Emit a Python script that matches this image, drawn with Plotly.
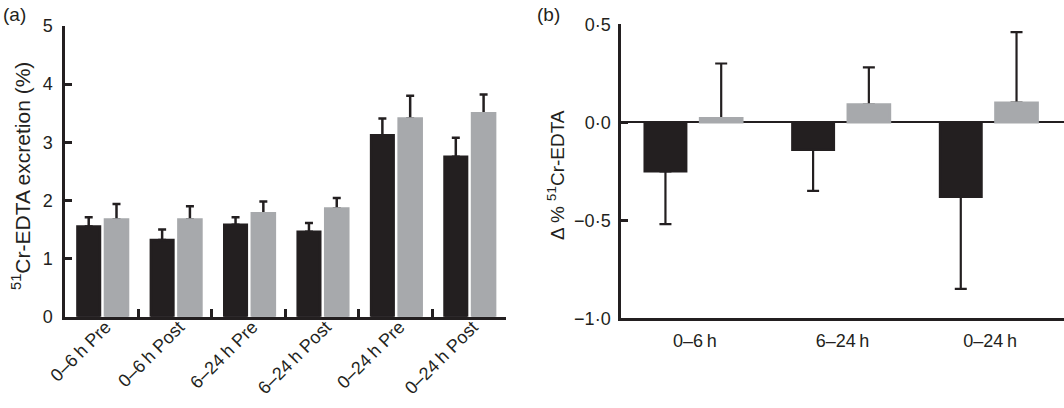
import plotly.graph_objects as go

# panel (a): excretion per collection period
cats_a = ["0–6\u2009h Pre", "0–6\u2009h Post", "6–24\u2009h Pre",
          "6–24\u2009h Post", "0–24\u2009h Pre", "0–24\u2009h Post"]
black_a = [1.55, 1.32, 1.58, 1.46, 3.12, 2.75]
black_a_err = [0.16, 0.18, 0.13, 0.15, 0.29, 0.33]
grey_a = [1.67, 1.67, 1.78, 1.86, 3.41, 3.50]
grey_a_err = [0.27, 0.23, 0.20, 0.18, 0.39, 0.32]

# panel (b): change in excretion
cats_b = ["0–6\u2009h", "6–24\u2009h", "0–24\u2009h"]
black_b = [-0.25, -0.14, -0.38]
black_b_err = [0.27, 0.21, 0.47]
grey_b = [0.02, 0.09, 0.10]
grey_b_err = [0.28, 0.19, 0.36]

ticks_b = [-1.0, -0.5, 0.0, 0.5]
ticktext_b = ["−1·0", "−0·5", "0·0", "0·5"]

BLACK = "#231f20"
GREY = "#a7a9ac"
FONT = "Liberation Sans"
W, H = 1064, 408


def bars(x, y, err, color, offset, width, xa, ya, up=True, with_err=True):
    err_opts = dict(visible=False)
    line = dict(width=0)
    if with_err:
        zeros = [0] * len(err)
        err_opts = dict(type="data", symmetric=False,
                        array=err if up else zeros,
                        arrayminus=zeros if up else err,
                        color=BLACK, thickness=2.5 if xa == "x" else 2.2,
                        width=4 if xa == "x" else 6)
    else:
        # thin outline in the bar colour covers the unwanted inner cap
        line = dict(width=2.6, color=color)
    return go.Bar(x=x, y=y, marker=dict(color=color, line=line),
                  offset=offset, width=width, error_y=err_opts,
                  xaxis=xa, yaxis=ya, showlegend=False, hoverinfo="skip")


fig = go.Figure()
# bars carrying the error bars first, then plain copies on top to hide the lower caps
fig.add_trace(bars(cats_a, black_a, black_a_err, BLACK, -0.33, 0.306, "x", "y"))
fig.add_trace(bars(cats_a, grey_a, grey_a_err, GREY, 0.045, 0.313, "x", "y"))
fig.add_trace(bars(cats_b, black_b, black_b_err, BLACK, -0.339, 0.28, "x2", "y2", up=False))
fig.add_trace(bars(cats_b, grey_b, grey_b_err, GREY, 0.036, 0.285, "x2", "y2"))
fig.add_trace(bars(cats_a, black_a, black_a_err, BLACK, -0.33, 0.306, "x", "y", with_err=False))
fig.add_trace(bars(cats_a, grey_a, grey_a_err, GREY, 0.045, 0.313, "x", "y", with_err=False))
fig.add_trace(bars(cats_b, black_b, black_b_err, BLACK, -0.339, 0.28, "x2", "y2", with_err=False))
fig.add_trace(bars(cats_b, grey_b, grey_b_err, GREY, 0.036, 0.285, "x2", "y2", with_err=False))

tickfont = dict(family=FONT, size=18, color=BLACK)
fig.update_layout(
    width=W, height=H, barmode="overlay",
    margin=dict(l=0, r=0, t=0, b=0),
    paper_bgcolor="white", plot_bgcolor="white",
    font=dict(family=FONT, color=BLACK),
    xaxis=dict(domain=[65 / W, 505.5 / W], anchor="y", type="category",
               range=[-0.5, 5.5], showline=True, linecolor=BLACK, linewidth=2.5,
               ticks="inside", tickson="boundaries", ticklen=8, tickwidth=2.5,
               tickcolor=BLACK, tickangle=-45, tickfont=tickfont,
               ticklabelshift=4, ticklabelstandoff=-10,
               showgrid=False, zeroline=False, automargin=False),
    yaxis=dict(domain=[91.3 / H, 382 / H], anchor="x", range=[0, 5],
               tickvals=[0, 1, 2, 3, 4, 5], showline=True, linecolor=BLACK,
               linewidth=2.5, ticks="inside", ticklen=7, tickwidth=2.5,
               tickcolor=BLACK, tickfont=tickfont, ticklabelstandoff=6,
               showgrid=False, zeroline=False, automargin=False),
    xaxis2=dict(domain=[621 / W, 1.0], anchor="y2", type="category",
                range=[-0.5, 2.5], showline=True, linecolor=BLACK, linewidth=2.5,
                ticks="", tickfont=tickfont, ticklabelstandoff=4,
                showgrid=False, zeroline=False, automargin=False),
    yaxis2=dict(domain=[89.7 / H, 383.7 / H], anchor="x2", range=[-1.0, 0.5],
                tickvals=ticks_b, ticktext=ticktext_b, showline=True,
                linecolor=BLACK, linewidth=2.5, ticks="inside", ticklen=7,
                tickwidth=2.5, tickcolor=BLACK, tickfont=tickfont,
                ticklabelstandoff=4, showgrid=False, zeroline=True,
                zerolinecolor=BLACK, zerolinewidth=2.2, automargin=False),
    annotations=[
        dict(text="(a)", x=1 / W, y=1 - 2 / H, xref="paper", yref="paper",
             xanchor="left", yanchor="top", showarrow=False,
             font=dict(family=FONT, size=19, color=BLACK)),
        dict(text="(b)", x=535 / W, y=1 - 2 / H, xref="paper", yref="paper",
             xanchor="left", yanchor="top", showarrow=False,
             font=dict(family=FONT, size=19, color=BLACK)),
        dict(text="<sup>51</sup>Cr-EDTA excretion (%)", x=21 / W, y=1 - 176 / H,
             xref="paper", yref="paper", xanchor="center", yanchor="middle",
             textangle=-90, showarrow=False,
             font=dict(family=FONT, size=21, color=BLACK)),
        dict(text="Δ % <sup>51</sup>Cr-EDTA", x=556 / W, y=1 - 175 / H,
             xref="paper", yref="paper", xanchor="center", yanchor="middle",
             textangle=-90, showarrow=False,
             font=dict(family=FONT, size=19, color=BLACK)),
    ],
)

# drop the default page margin so the figure sits at the window's top-left corner
fig.write_html("out.html", config={"displayModeBar": False},
               post_script="document.body.style.margin='0';"
                           "document.body.style.overflow='hidden';")
